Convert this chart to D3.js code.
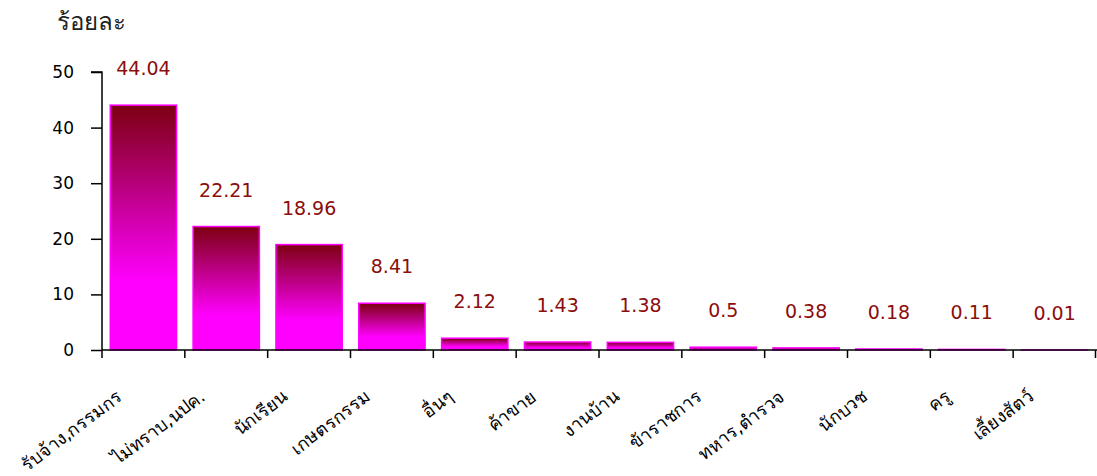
<!DOCTYPE html>
<html><head><meta charset="utf-8">
<script src="https://cdn.jsdelivr.net/npm/d3@7"></script>
<style>
body{margin:0;background:#fff;}
svg{display:block;}
text{font-family:Tahoma,"DejaVu Sans","Noto Sans",sans-serif;}
</style></head>
<body>
<svg id="chart" width="1097" height="476"></svg>
<script>
const categories = ["รับจ้าง,กรรมกร","ไม่ทราบ,นปค.","นักเรียน","เกษตรกรรม","อื่นๆ","ค้าขาย","งานบ้าน","ข้าราชการ","ทหาร,ตำรวจ","นักบวช","ครู","เลี้ยงสัตว์"];
const values = [44.04,22.21,18.96,8.41,2.12,1.43,1.38,0.5,0.38,0.18,0.11,0.01];
const valueLabels = ["44.04","22.21","18.96","8.41","2.12","1.43","1.38","0.5","0.38","0.18","0.11","0.01"];
const yTicks = [0,10,20,30,40,50];
const yTitle = "ร้อยละ";

const svg = d3.select("#chart");
const m = {left:102, right:1, top:72, bottom:126};
const W = 1097, H = 476;
const x = d3.scaleBand().domain(categories).range([m.left, W - m.right]).paddingInner(0.2).paddingOuter(0.1);
const y = d3.scaleLinear().domain([0,50]).range([H - m.bottom, m.top]);

const defs = svg.append("defs");
const grad = defs.append("linearGradient").attr("id","barGrad").attr("x1",0).attr("y1",0).attr("x2",0).attr("y2",1);
grad.append("stop").attr("offset","0%").attr("stop-color","#7d0010");
grad.append("stop").attr("offset","72%").attr("stop-color","#ff00ff");
grad.append("stop").attr("offset","100%").attr("stop-color","#ff00ff");

// bars
svg.append("g").selectAll("rect").data(values).join("rect")
  .attr("x",(d,i)=>x(categories[i]))
  .attr("y",d=>y(d))
  .attr("width",x.bandwidth())
  .attr("height",d=>y(0)-y(d))
  .attr("fill","url(#barGrad)")
  .attr("stroke","#ff00ff").attr("stroke-width",1.5);

// value labels
svg.append("g").selectAll("text").data(values).join("text")
  .attr("x",(d,i)=>x(categories[i])+x.bandwidth()/2)
  .attr("y",d=>y(d)-30)
  .attr("text-anchor","middle")
  .attr("font-size",19).attr("fill","#8b0d0d")
  .style("font-family","'DejaVu Sans',sans-serif")
  .text((d,i)=>valueLabels[i]);

// y axis
const yAxis = svg.append("g").attr("transform",`translate(${m.left},0)`)
  .call(d3.axisLeft(y).tickValues(yTicks).tickSize(11).tickPadding(17).tickFormat(d3.format("d")));
yAxis.selectAll("text").attr("font-size",17).attr("fill","#000").style("font-family","'DejaVu Sans',sans-serif");
yAxis.selectAll("line,path").attr("stroke","#000").attr("stroke-width",1.5);
yAxis.select(".domain").attr("d",`M-11,${y(50)}H0V${y(0)}`);

// x axis
const boundaries = categories.map(c=>x(c)-x.step()*x.paddingInner()/2).concat([W - m.right - 0.5]);
const xg = svg.append("g");
xg.append("line").attr("x1",m.left).attr("x2",W).attr("y1",y(0)).attr("y2",y(0)).attr("stroke","#000").attr("stroke-width",1.5);
xg.selectAll("line.tk").data(boundaries).join("line").attr("class","tk")
  .attr("x1",d=>d).attr("x2",d=>d).attr("y1",y(0)).attr("y2",y(0)+8)
  .attr("stroke","#000").attr("stroke-width",1.5);
xg.selectAll("text").data(categories).join("text")
  .attr("transform",c=>`translate(${x(c)+x.bandwidth()/2-20},399) rotate(-37)`)
  .attr("text-anchor","end").attr("font-size",18).attr("fill","#000")
  .text(c=>c);

// y title
svg.append("text").attr("x",57).attr("y",30).attr("font-size",24).attr("fill","#222").text(yTitle);
</script>
</body></html>
